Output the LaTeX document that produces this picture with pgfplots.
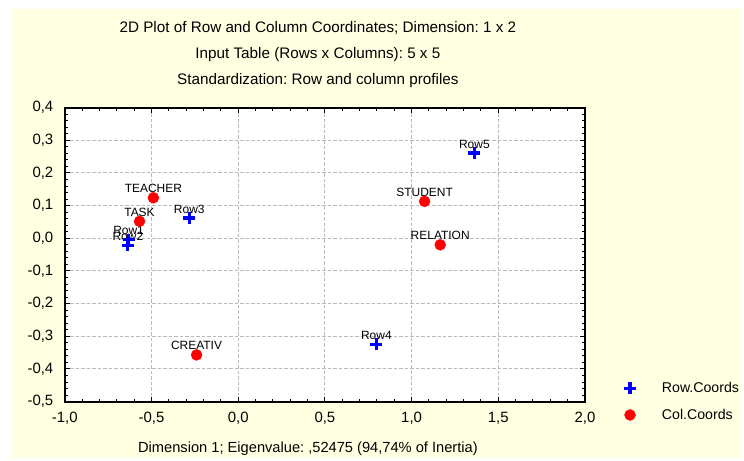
\documentclass[border=0pt]{standalone}
\usepackage{fontspec}
\setmainfont{Liberation Sans}
\usepackage{pgfplots}
\pgfplotsset{compat=1.18}
\definecolor{bgyel}{RGB}{255,255,226}
\definecolor{gridgray}{RGB}{185,185,185}
\frenchspacing
\begin{document}
\begin{tikzpicture}[x=1pt,y=1pt]
\fill[white] (-65,-59) rectangle (679,403);
\fill[bgyel] (-53,-57) rectangle (679,394);
\begin{axis}[
  at={(0,0)}, anchor=south west,
  scale only axis, width=522pt, height=295pt,
  xmin=-1, xmax=2, ymin=-0.5, ymax=0.4,
  xtick={-1,-0.5,0,0.5,1,1.5,2},
  ytick={-0.5,-0.4,-0.3,-0.2,-0.1,0,0.1,0.2,0.3,0.4},
  minor x tick num=4, minor y tick num=4,
  tick align=inside,
  major tick length=5pt, minor tick length=3pt,
  every tick/.style={black, line width=1pt},
  grid=major,
  major grid style={gridgray, line width=1pt, dash pattern=on 3.5pt off 2pt},
  axis line style={line width=1.8pt},
  axis background/.style={fill=white},
  /pgf/number format/assume math mode=true,
  /pgf/number format/use comma,
  /pgf/number format/fixed,
  /pgf/number format/fixed zerofill,
  /pgf/number format/precision=1,
  tick label style={font=\fontsize{15}{17}\selectfont},
  xticklabel style={yshift=-7pt},
  yticklabel style={xshift=-8pt},
  title={2D Plot of Row and Column Coordinates; Dimension: 1 x 2\\Input Table (Rows x Columns): 5 x 5\\Standardization: Row and column profiles},
  title style={align=center, font=\fontsize{15.3}{26.5}\selectfont, at={(0.5,1)}, anchor=south, yshift=10pt, xshift=-7pt},
  xlabel={Dimension 1; Eigenvalue: ,52475 (94,74\% of Inertia)},
  xlabel style={font=\fontsize{14.7}{16}\selectfont, at={(axis description cs:0.5,0)}, anchor=base, yshift=-51pt, xshift=-17pt},
  legend style={draw=none, fill=none, font=\fontsize{14.2}{16}\selectfont, at={(1,0)}, anchor=west, xshift=36pt, row sep=11pt, column sep=24pt},
  legend cell align=left,
  clip=false,
]
\addplot[only marks, mark=+, mark size=6pt, color=blue, mark options={line width=3.2pt}] table {
x y
-0.632 -0.004
-0.636 -0.022
-0.282 0.062
0.797 -0.325
1.362 0.261
};
\addlegendentry{Row.Coords}
\addplot[only marks, mark=*, mark size=5.5pt, color=red, mark options={fill=red, draw=red}] table {
x y
-0.569 0.052
-0.489 0.124
1.075 0.113
1.165 -0.020
-0.240 -0.357
};
\addlegendentry{Col.Coords}
\tikzset{lbl/.style={font=\fontsize{12}{14}\selectfont, anchor=base, yshift=5pt, inner sep=0pt}}
\node[lbl] at (axis cs:-0.632,-0.004) {Row1};
\node[lbl] at (axis cs:-0.636,-0.022) {Row2};
\node[lbl] at (axis cs:-0.282,0.062) {Row3};
\node[lbl] at (axis cs:0.797,-0.325) {Row4};
\node[lbl] at (axis cs:1.362,0.261) {Row5};
\node[lbl] at (axis cs:-0.569,0.052) {TASK};
\node[lbl] at (axis cs:-0.489,0.124) {TEACHER};
\node[lbl] at (axis cs:1.075,0.113) {STUDENT};
\node[lbl] at (axis cs:1.165,-0.020) {RELATION};
\node[lbl] at (axis cs:-0.240,-0.357) {CREATIV};
\end{axis}
\end{tikzpicture}
\end{document}
